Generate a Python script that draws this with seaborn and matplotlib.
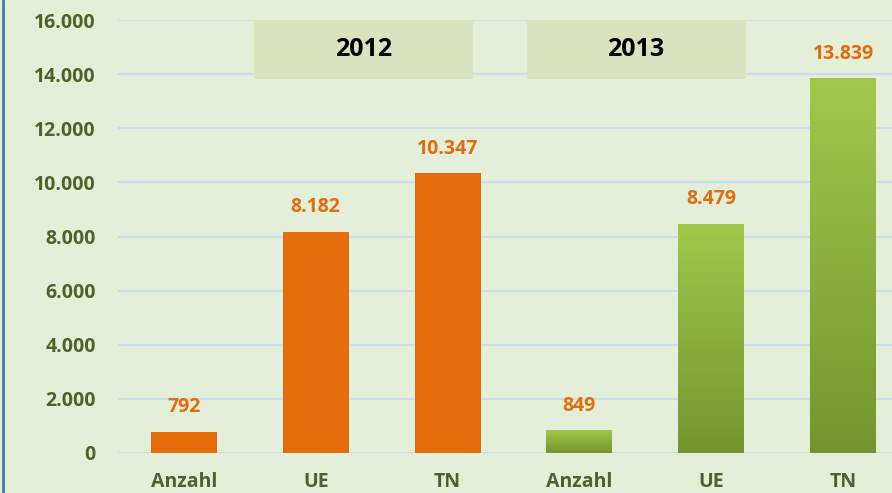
import numpy as np
import pandas as pd
import matplotlib.pyplot as plt
import matplotlib.colors as mcolors
import seaborn as sns

plt.switch_backend('Agg')

# Daten
years = ['2012', '2013']
metrics = ['Anzahl', 'UE', 'TN']
values_2012 = [792, 8182, 10347]
values_2013 = [849, 8479, 13839]
y_ticks = [0, 2000, 4000, 6000, 8000, 10000, 12000, 14000, 16000]

BG = '#e3efd8'
ORANGE = '#e46c0a'
TICK = '#4f6228'

rows = []
for yr, vals in zip(years, [values_2012, values_2013]):
    for m, v in zip(metrics, vals):
        rows.append({'slot': f'{m} {yr}', 'metric': m, 'year': yr, 'value': v})
df = pd.DataFrame(rows)

sns.set_style('white')
plt.rcParams['font.family'] = ['Open Sans', 'DejaVu Sans']

fig = plt.figure(figsize=(8.92, 4.93), dpi=100, facecolor=BG)
ax = fig.add_axes([118 / 892, 40 / 493, (909 - 118) / 892, 433 / 493])
ax.set_facecolor(BG)

sns.barplot(data=df, x='slot', y='value', hue='year', order=df['slot'].tolist(),
            palette={'2012': ORANGE, '2013': '#8cb03c'}, dodge=False, width=0.5,
            saturation=1, linewidth=0, edgecolor='none',
            legend=False, ax=ax, zorder=3)

ax.set_xlim(-0.5, 5.5)
ax.set_ylim(0, 16000)
ax.set_yticks(y_ticks)
ax.set_yticklabels([f'{t:,}'.replace(',', '.') for t in y_ticks])
ax.set_xticks(range(len(df)))
ax.set_xticklabels(df['metric'].tolist())
ax.tick_params(axis='both', length=0, labelsize=14, labelcolor=TICK)
ax.tick_params(axis='y', pad=16)
ax.tick_params(axis='x', pad=14)
for lbl in ax.get_xticklabels() + ax.get_yticklabels():
    lbl.set_fontweight('bold')
ax.set_xlabel('')
ax.set_ylabel('')
for s in ax.spines.values():
    s.set_visible(False)
ax.yaxis.grid(True, color='#cbdcee', linewidth=1.5, zorder=0)
ax.set_axisbelow(True)

# Verlauf fuer 2013-Balken
cmap = mcolors.LinearSegmentedColormap.from_list('g', ['#75942f', '#a1c84b'])
grad = np.linspace(0, 1, 256).reshape(-1, 1)
for i, bar in enumerate(ax.patches[:len(df)]):
    if df['year'].iloc[i] != '2013':
        continue
    x0, w, h = bar.get_x(), bar.get_width(), bar.get_height()
    im = ax.imshow(grad, cmap=cmap, aspect='auto', origin='lower',
                   extent=[x0, x0 + w, 0, h], zorder=4)
    im.set_clip_path(bar)

# Wertebeschriftungen
for i, v in enumerate(df['value']):
    ax.annotate(f'{v:,}'.replace(',', '.'), (i, v), xytext=(0, 14),
                textcoords='offset points', ha='center', va='baseline',
                color=ORANGE, fontsize=14, fontweight='bold', zorder=6)

# Jahreskaesten
for yr, cx in zip(years, [1.36, 3.43]):
    ax.add_patch(plt.Rectangle((cx - 0.83, 13820), 1.66, 2180, facecolor='#d7e4bf',
                               edgecolor='none', zorder=2, clip_on=False))
    ax.text(cx, 14910, yr, ha='center', va='center', fontsize=18,
            fontweight='bold', color='black', zorder=5)

ax.set_xlim(-0.5, 5.5)
ax.set_ylim(0, 16000)

# linker Rahmen
fig.add_artist(plt.Line2D([3 / 892, 3 / 892], [0, 1], color='#4a76a8', linewidth=2))

fig.savefig('out.png', dpi=100, facecolor=BG)
